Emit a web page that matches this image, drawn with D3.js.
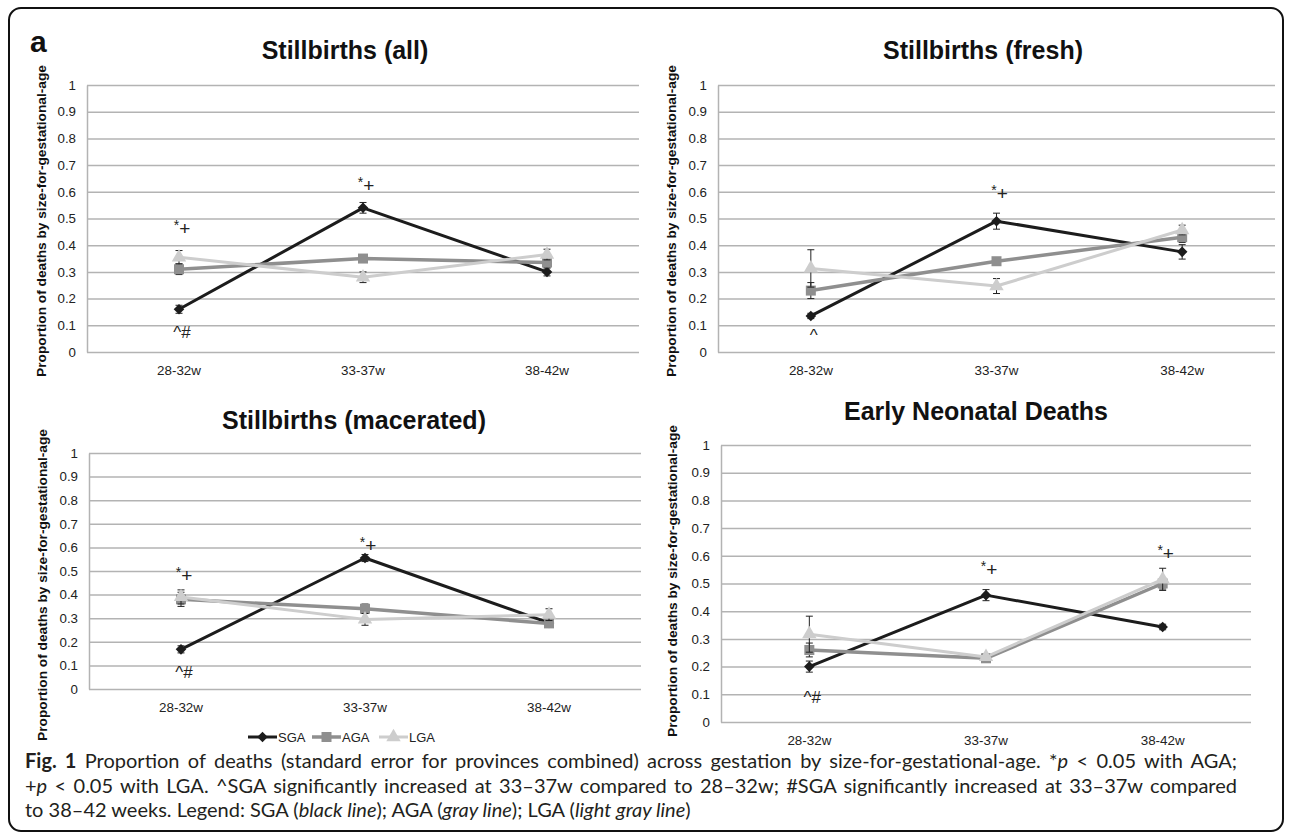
<!DOCTYPE html>
<html>
<head>
<meta charset="utf-8">
<script src="https://cdn.jsdelivr.net/npm/d3@7"></script>
<style>
   body { margin: 0; background: #fff; }
   svg text { font-family: "Liberation Sans", Arial, sans-serif; }
</style>
</head>
<body>
<svg id="chart" width="1292" height="837"></svg>
<script>
// ---- data ----
const categories = ['28-32w', '33-37w', '38-42w'];
const seriesNames = ['SGA', 'AGA', 'LGA'];
const yTicks = [0, 0.1, 0.2, 0.3, 0.4, 0.5, 0.6, 0.7, 0.8, 0.9, 1];

// rows: SGA, AGA, LGA
const allValues = [[0.16, 0.54, 0.30], [0.31, 0.35, 0.335], [0.355, 0.28, 0.365]];
const allErrors = [[0.015, 0.02, 0.015], [0.02, 0.01, 0.02], [0.025, 0.02, 0.02]];
const freshValues = [[0.135, 0.49, 0.375], [0.23, 0.34, 0.43], [0.313, 0.247, 0.457]];
const freshErrors = [[0.01, 0.03, 0.027], [0.03, 0.01, 0.02], [0.07, 0.028, 0.018]];
const maceratedValues = [[0.168, 0.555, 0.28], [0.38, 0.34, 0.278], [0.39, 0.295, 0.315]];
const maceratedErrors = [[0.015, 0.015, 0.01], [0.03, 0.02, 0.01], [0.03, 0.025, 0.025]];
const neonatalValues = [[0.20, 0.458, 0.343], [0.26, 0.23, 0.50], [0.317, 0.235, 0.515]];
const neonatalErrors = [[0.02, 0.02, 0.01], [0.025, 0.01, 0.02], [0.065, 0.01, 0.04]];

// significance marks: category, height (in y units), text
const allMarks = [{ cat: '28-32w', v: 0.46, t: '*+' }, { cat: '33-37w', v: 0.62, t: '*+' }, { cat: '28-32w', v: 0.075, t: '^#' }];
const freshMarks = [{ cat: '33-37w', v: 0.59, t: '*+' }, { cat: '28-32w', v: 0.065, t: '^' }];
const maceratedMarks = [{ cat: '28-32w', v: 0.48, t: '*+' }, { cat: '33-37w', v: 0.607, t: '*+' }, { cat: '28-32w', v: 0.07, t: '^#' }];
const neonatalMarks = [{ cat: '33-37w', v: 0.55, t: '*+' }, { cat: '38-42w', v: 0.607, t: '*+' }, { cat: '28-32w', v: 0.09, t: '^#' }];

const captionLines = [
   [['Fig. 1', 'b'], [' Proportion of deaths (standard error for provinces combined) across gestation by size-for-gestational-age. *', ''], ['p', 'i'], [' < 0.05 with AGA;', '']],
   [['+', ''], ['p', 'i'], [' < 0.05 with LGA. ^SGA significantly increased at 33\u201337w compared to 28\u201332w; #SGA significantly increased at 33\u201337w compared', '']],
   [['to 38\u201342 weeks. Legend: SGA (', ''], ['black line', 'i'], ['); AGA (', ''], ['gray line', 'i'], ['); LGA (', ''], ['light gray line', 'i'], [')', '']],
];

// ---- styling ----
const seriesStyle = {
   SGA: { color: '#1c1c1c', width: 3, symbol: 'diamond' },
   AGA: { color: '#8f8f8f', width: 3.5, symbol: 'square' },
   LGA: { color: '#cdcdcd', width: 3, symbol: 'triangle' },
};

const panels = [
   { title: 'Stillbirths (all)', values: allValues, errors: allErrors, marks: allMarks,
     left: 87, right: 639, top: 85, bottom: 352, titleX: 345, titleY: 59, yTitleX: 41, yTitleY: 221 },
   { title: 'Stillbirths (fresh)', values: freshValues, errors: freshErrors, marks: freshMarks,
     left: 718, right: 1275, top: 85, bottom: 352, titleX: 983, titleY: 59, yTitleX: 671, yTitleY: 221 },
   { title: 'Stillbirths (macerated)', values: maceratedValues, errors: maceratedErrors, marks: maceratedMarks,
     left: 89, right: 641, top: 453, bottom: 689, titleX: 354, titleY: 429, yTitleX: 42, yTitleY: 585,
     legend: { x: 248, y: 737 } },
   { title: 'Early Neonatal Deaths', values: neonatalValues, errors: neonatalErrors, marks: neonatalMarks,
     left: 721, right: 1251, top: 445, bottom: 722, titleX: 976, titleY: 420, yTitleX: 672, yTitleY: 581 },
];

const svg = d3.select('#chart');

// outer frame and panel letter
svg.append('rect')
   .attr('x', 9).attr('y', 8)
   .attr('width', 1274).attr('height', 823)
   .attr('rx', 12)
   .attr('fill', 'none')
   .attr('stroke', '#111')
   .attr('stroke-width', 2);

svg.append('text')
   .attr('x', 30).attr('y', 52)
   .attr('font-size', 30)
   .attr('font-weight', 'bold')
   .attr('fill', '#111')
   .text('a');

function markerPath(kind) {
   if (kind === 'square') return d3.symbol(d3.symbolSquare, 100)();
   if (kind === 'triangle') return d3.symbol(d3.symbolTriangle, 90)();
   return d3.symbol(d3.symbolSquare, 56)();
}

function drawMarker(g, kind, cx, cy, color) {
   g.append('path')
      .attr('d', markerPath(kind))
      .attr('transform', `translate(${cx},${cy})` + (kind === 'diamond' ? ' rotate(45)' : ''))
      .attr('fill', color);
}

function drawPanel(p) {
   const g = svg.append('g').attr('class', 'panel');

   const x = d3.scaleBand().domain(categories).range([p.left, p.right]);
   const y = d3.scaleLinear().domain([0, 1]).range([p.bottom, p.top]);
   const cx = (c) => x(c) + x.bandwidth() / 2;

   // gridlines + y labels
   const yAxisG = g.append('g')
      .attr('transform', `translate(${p.left},0)`)
      .call(d3.axisLeft(y)
         .tickValues(yTicks)
         .tickSize(-(p.right - p.left))
         .tickSizeOuter(0)
         .tickPadding(11)
         .tickFormat(d3.format('.1~f')));
   yAxisG.selectAll('.tick line').attr('stroke', '#b3b3b3').attr('stroke-width', 1.5);
   yAxisG.select('.domain').attr('stroke', '#b3b3b3').attr('stroke-width', 1.5);
   yAxisG.selectAll('.tick text')
      .attr('font-size', 13.3)
      .attr('fill', '#222')
      .style('font-family', '"Liberation Sans", Arial, sans-serif');

   // category labels
   const xAxisG = g.append('g')
      .attr('transform', `translate(0,${p.bottom})`)
      .call(d3.axisBottom(x).tickSize(0).tickPadding(13));
   xAxisG.select('.domain').remove();
   xAxisG.selectAll('.tick text')
      .attr('font-size', 13.4)
      .attr('fill', '#222')
      .style('font-family', '"Liberation Sans", Arial, sans-serif');

   // titles
   g.append('text')
      .attr('x', p.titleX).attr('y', p.titleY)
      .attr('text-anchor', 'middle')
      .attr('font-size', 25)
      .attr('font-weight', 'bold')
      .attr('fill', '#111')
      .text(p.title);

   g.append('text')
      .attr('transform', `translate(${p.yTitleX},${p.yTitleY}) rotate(-90)`)
      .attr('text-anchor', 'middle')
      .attr('dy', '0.35em')
      .attr('font-size', 13.7)
      .attr('font-weight', 'bold')
      .attr('fill', '#111')
      .text('Proportion of deaths by size-for-gestational-age');

   // series: SGA first, LGA drawn on top
   const line = d3.line()
      .x((d) => cx(d.cat))
      .y((d) => y(d.v));

   seriesNames.forEach((name, i) => {
      const st = seriesStyle[name];
      const pts = categories.map((c, j) => ({ cat: c, v: p.values[i][j], e: p.errors[i][j] }));
      const sg = g.append('g').attr('class', 'series ' + name);

      sg.append('path')
         .datum(pts)
         .attr('d', line)
         .attr('fill', 'none')
         .attr('stroke', st.color)
         .attr('stroke-width', st.width)
         .attr('stroke-linejoin', 'round');

      pts.forEach((d) => {
         const px = cx(d.cat);
         const y0 = y(d.v - d.e), y1 = y(d.v + d.e);
         sg.append('line')
            .attr('x1', px).attr('x2', px).attr('y1', y0).attr('y2', y1)
            .attr('stroke', '#222').attr('stroke-width', 1);
         [y0, y1].forEach((yy) => {
            sg.append('line')
               .attr('x1', px - 3.5).attr('x2', px + 3.5).attr('y1', yy).attr('y2', yy)
               .attr('stroke', '#222').attr('stroke-width', 1);
         });
         drawMarker(sg, st.symbol, px, y(d.v), st.color);
      });
   });

   // significance marks
   p.marks.forEach((m) => {
      const t = g.append('text')
         .attr('x', cx(m.cat) + 3)
         .attr('y', y(m.v) + 6)
         .attr('text-anchor', 'middle')
         .attr('fill', '#222');
      if (m.t[0] === '*') {
         t.append('tspan').attr('font-size', 14).attr('dy', -5).text('*');
         t.append('tspan').attr('font-size', 19).attr('dy', 5).text(m.t.slice(1));
      } else {
         t.attr('font-size', 17).text(m.t);
      }
   });

   // legend
   if (p.legend) {
      const lg = g.append('g').attr('transform', `translate(${p.legend.x},${p.legend.y})`);
      const steps = [0, 64, 131];
      seriesNames.forEach((name, i) => {
         const st = seriesStyle[name];
         const item = lg.append('g').attr('transform', `translate(${steps[i]},0)`);
         item.append('line')
            .attr('x1', 0).attr('x2', 29).attr('y1', 0).attr('y2', 0)
            .attr('stroke', st.color).attr('stroke-width', st.width);
         drawMarker(item, st.symbol, 14.5, 0, st.color);
         item.append('text')
            .attr('x', 30).attr('y', 0).attr('dy', '0.35em')
            .attr('font-size', 13)
            .attr('fill', '#222')
            .text(name);
      });
   }
}

panels.forEach(drawPanel);

// caption, first two lines justified
const capLeft = 25, capRight = 1237;
captionLines.forEach((segs, i) => {
   const t = svg.append('text')
      .attr('x', capLeft)
      .attr('y', 768 + i * 24.5)
      .attr('font-size', 20)
      .attr('fill', '#231f20')
      .style('font-family', 'Lato, "Open Sans", sans-serif');
   segs.forEach(([s, f]) => {
      const ts = t.append('tspan').text(s);
      if (f === 'b') ts.attr('font-weight', 'bold');
      if (f === 'i') ts.attr('font-style', 'italic');
   });
   if (i < 2) {
      const len = t.node().getComputedTextLength();
      const spaces = segs.map((s) => s[0]).join('').split(' ').length - 1;
      const extra = (capRight - capLeft - len) / spaces;
      if (extra > 0) t.attr('word-spacing', extra);
      else t.attr('textLength', capRight - capLeft).attr('lengthAdjust', 'spacingAndGlyphs');
   }
});
</script>
</body>
</html>
